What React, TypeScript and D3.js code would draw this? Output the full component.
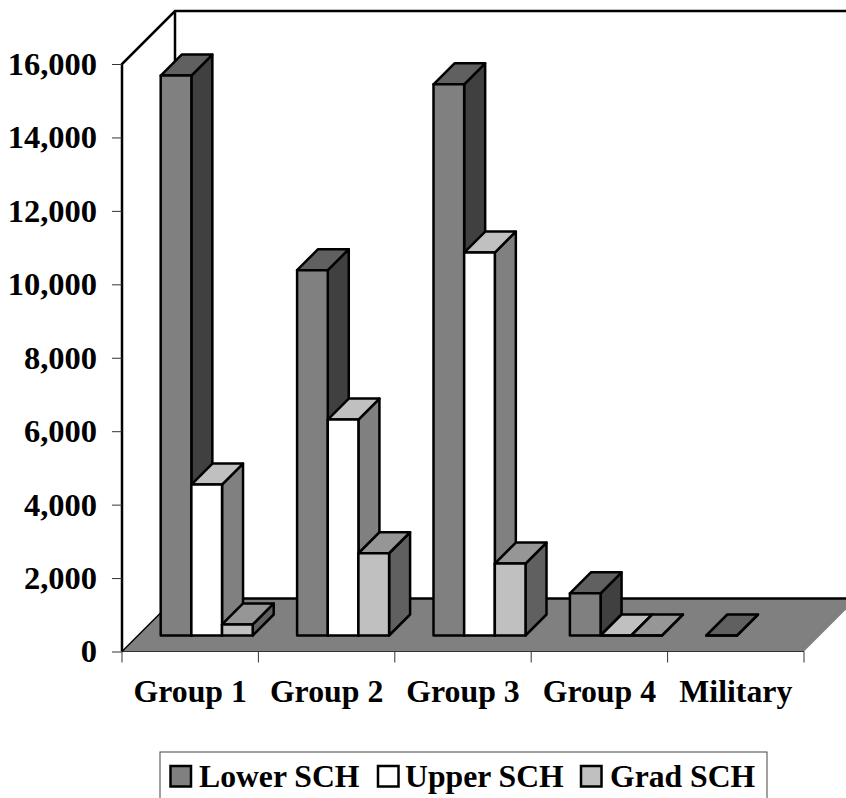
import React, { useEffect, useRef } from 'react'
import * as d3 from 'd3'

const categories = ['Group 1', 'Group 2', 'Group 3', 'Group 4', 'Military']
const seriesNames = ['Lower SCH', 'Upper SCH', 'Grad SCH']
const lowerSch = [15250, 9950, 15010, 1150, 0]
const upperSch = [4110, 5880, 10430, 0, null]
const gradSch = [300, 2240, 1960, 0, null]
const yTicks = [0, 2000, 4000, 6000, 8000, 10000, 12000, 14000, 16000]

const seriesValues = [lowerSch, upperSch, gradSch]
// front, top, side shades of each series
const shades = [
  ['#808080', '#606060', '#404040'],
  ['#ffffff', '#c0c0c0', '#808080'],
  ['#c0c0c0', '#969696', '#606060'],
]

const font = '"Liberation Serif", "Times New Roman", serif'
const wallDepth = 53
const barInset = 16 // bars stand this far back on the floor
const barDepth = 21

export default function App() {
  const svgRef = useRef<SVGSVGElement>(null)

  useEffect(() => {
    if (!svgRef.current) return
    d3.select(svgRef.current).selectAll('*').remove()

    const svg = d3.select(svgRef.current)
    const left = 122
    const right = 804
    const bottom = 651.5
    const top = 64

    const x = d3.scaleBand().domain(categories).range([left, right])
    const y = d3.scaleLinear().domain([0, 16000]).range([bottom, top])
    const inner = d3.scaleBand<number>()
      .domain([0, 1, 2])
      .range([22.7, x.bandwidth() - 21.7])

    const poly = (pts: number[][]) => pts.map(p => p.join(',')).join(' ')

    // Floor
    svg.append('polygon')
      .attr('points', poly([
        [left, bottom],
        [right, bottom],
        [right + wallDepth, bottom - wallDepth],
        [left + wallDepth, bottom - wallDepth],
      ]))
      .attr('fill', '#808080')
    svg.append('line')
      .attr('x1', left).attr('x2', right)
      .attr('y1', bottom).attr('y2', bottom)
      .attr('stroke', '#333').attr('stroke-width', 1)
    svg.append('line')
      .attr('x1', left + wallDepth).attr('x2', right + wallDepth)
      .attr('y1', bottom - wallDepth).attr('y2', bottom - wallDepth)
      .attr('stroke', '#000').attr('stroke-width', 2.5)

    // Walls
    svg.append('polyline')
      .attr('points', poly([
        [left, bottom],
        [left, top],
        [left + wallDepth, top - wallDepth],
        [right + wallDepth, top - wallDepth],
      ]))
      .attr('fill', 'none').attr('stroke', '#000').attr('stroke-width', 2.5)
    svg.append('line')
      .attr('x1', left + wallDepth).attr('x2', left + wallDepth)
      .attr('y1', top - wallDepth).attr('y2', bottom - wallDepth)
      .attr('stroke', '#000').attr('stroke-width', 2.5)
    svg.append('line')
      .attr('x1', left).attr('x2', left + wallDepth)
      .attr('y1', bottom).attr('y2', bottom - wallDepth)
      .attr('stroke', '#000').attr('stroke-width', 1.5)

    // Axes
    const yAxis = svg.append('g')
      .attr('transform', `translate(${left},0)`)
      .call(d3.axisLeft(y).tickValues(yTicks).tickFormat(d3.format(',')).tickSize(10).tickPadding(15))
    yAxis.select('.domain').remove()
    yAxis.selectAll('.tick line').attr('stroke', '#333')
    yAxis.selectAll('text')
      .attr('fill', '#000')
      .style('font-family', font)
      .style('font-size', '32.5px')
      .style('font-weight', 'bold')

    const xTickPositions = categories.map(c => x(c) as number).concat(right)
    svg.selectAll('.x-tick')
      .data(xTickPositions)
      .enter().append('line')
      .attr('class', 'x-tick')
      .attr('x1', d => d).attr('x2', d => d)
      .attr('y1', bottom).attr('y2', bottom + 11)
      .attr('stroke', '#333')

    svg.selectAll('.x-label')
      .data(categories)
      .enter().append('text')
      .attr('class', 'x-label')
      .attr('x', d => (x(d) as number) + x.bandwidth() / 2)
      .attr('y', 702)
      .attr('text-anchor', 'middle')
      .style('font-family', font)
      .style('font-size', '31.8px')
      .style('font-weight', 'bold')
      .text(d => d)

    // Bars, left to right so the nearer faces overlap the previous side
    categories.forEach((cat, ci) => {
      seriesValues.forEach((values, si) => {
        const value = values[ci]
        if (value === null) return
        const x0 = (x(cat) as number) + barInset + (inner(si) as number)
        const x1 = x0 + inner.bandwidth()
        const y0 = y(0) - barInset
        const y1 = y(value) - barInset
        const d = barDepth
        const faces = [
          { fill: shades[si][2], pts: [[x1, y0], [x1 + d, y0 - d], [x1 + d, y1 - d], [x1, y1]] },
          { fill: shades[si][1], pts: [[x0, y1], [x1, y1], [x1 + d, y1 - d], [x0 + d, y1 - d]] },
          { fill: shades[si][0], pts: [[x0, y0], [x1, y0], [x1, y1], [x0, y1]] },
        ]
        faces.forEach(f => {
          svg.append('polygon')
            .attr('points', poly(f.pts))
            .attr('fill', f.fill)
            .attr('stroke', '#000')
            .attr('stroke-width', 2.5)
            .attr('stroke-linejoin', 'round')
        })
      })
    })

    // Legend, its bottom edge runs off the page
    svg.append('rect')
      .attr('x', 160).attr('y', 752)
      .attr('width', 607).attr('height', 48)
      .attr('fill', '#fff').attr('stroke', '#444').attr('stroke-width', 1)

    const swatchX = [170.5, 378, 581]
    const labelX = [199, 405, 610]
    seriesNames.forEach((name, i) => {
      svg.append('rect')
        .attr('x', swatchX[i]).attr('y', 766)
        .attr('width', 20.5).attr('height', 20.5)
        .attr('fill', shades[i][0])
        .attr('stroke', '#000').attr('stroke-width', 2.5)
      svg.append('text')
        .attr('x', labelX[i]).attr('y', 787)
        .style('font-family', font)
        .style('font-size', '31.7px')
        .style('font-weight', 'bold')
        .text(name)
    })
  }, [])

  return (
    <svg
      ref={svgRef}
      width={846}
      height={798}
      style={{ position: 'absolute', left: 0, top: 0, background: '#fff' }}
    ></svg>
  )
}
